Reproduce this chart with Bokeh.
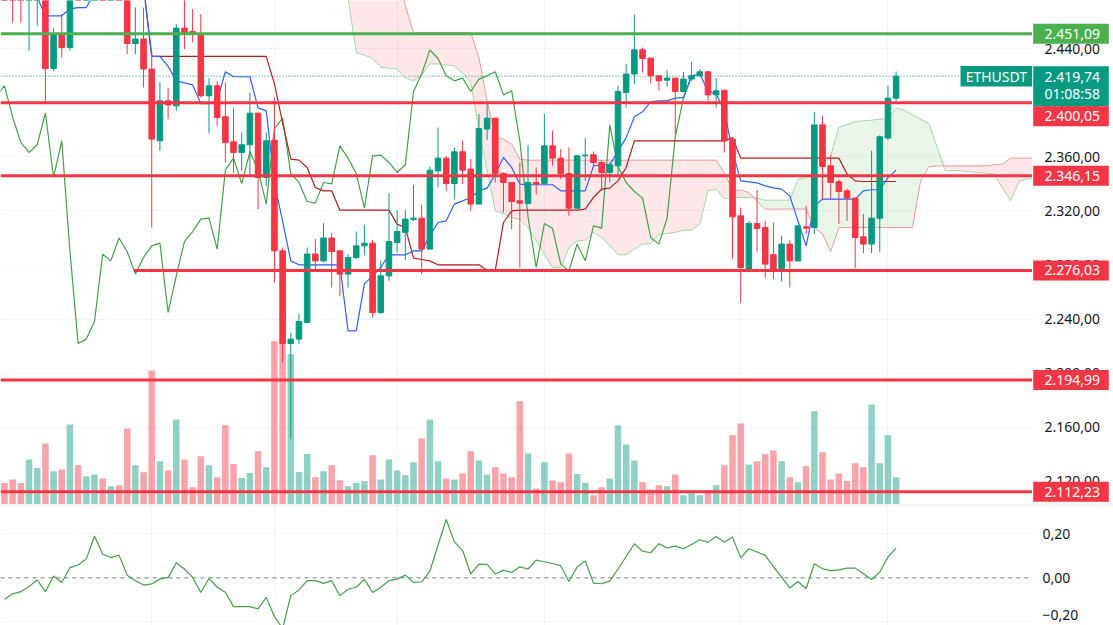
import numpy as np
from bokeh.plotting import figure
from bokeh.models import Range1d, FixedTicker, Grid, Span, ColumnDataSource
from bokeh.layouts import column
from bokeh.embed import file_html
from bokeh.resources import INLINE
from bokeh.core.properties import value

FONT = "Noto Sans"
UP, DOWN = "#089981", "#F23645"

# ---------------- data (ETHUSDT candles, index 0..109) ----------------
opens = [2515, 2490, 2478, 2477, 2492, 2505, 2425.4, 2450.8, 2441.0, 2500,
         2488, 2520, 2545, 2510, 2518, 2498, 2443.9, 2447.2, 2425.0, 2371.9,
         2401.5, 2397.8, 2455.3, 2452.8, 2450.9, 2405.2, 2412.6, 2389.7, 2371.2, 2363.3,
         2369.0, 2392.4, 2344.8, 2372.4, 2290.5, 2221.9, 2225.2, 2237.5, 2288.1, 2283.1,
         2300.0, 2290.5, 2273.3, 2285.6, 2294.2, 2296.2, 2244.9, 2272.0, 2296.7, 2304.1,
         2313.7, 2314.7, 2291.8, 2349.7, 2359.1, 2340.3, 2363.8, 2351.0, 2325.1, 2380.6,
         2388.7, 2347.7, 2341.1, 2327.5, 2325.5, 2341.0, 2340.3, 2368.2, 2359.1, 2347.7,
         2322.1, 2360.8, 2361.6, 2355.9, 2348.5, 2353.4, 2407.7, 2421.3, 2439.2, 2433.1,
         2420.0, 2416.8, 2418.3, 2408.4, 2417.6, 2420.0, 2423.0, 2405.9, 2409.4, 2373.2,
         2316.4, 2277.0, 2310.7, 2307.8, 2287.6, 2275.2, 2295.5, 2283.1, 2308.3, 2307.8,
         2383.7, 2353.4, 2341.6, 2334.9, 2329.5, 2300.9, 2295.5, 2314.7, 2374.0, 2403.5]
highs = [2528, 2498, 2486, 2500, 2510, 2512, 2455.3, 2465.7, 2510, 2540,
         2525, 2561, 2553, 2523.6, 2518, 2518.6, 2470.5, 2470.5, 2438.5, 2415.1,
         2410.9, 2458.3, 2492.0, 2469.4, 2465.7, 2418.3, 2416.3, 2415.1, 2396.1, 2378.1,
         2407.7, 2392.9, 2378.1, 2404.0, 2293.0, 2230.1, 2243.7, 2293.0, 2299.2, 2311.0,
         2304.0, 2290.5, 2288.1, 2304.8, 2309.5, 2298.7, 2283.1, 2333.2, 2320.6, 2320.6,
         2339.4, 2324.6, 2352.9, 2381.8, 2360.8, 2367.0, 2371.9, 2358.4, 2391.7, 2399.1,
         2388.7, 2348.5, 2341.1, 2355.9, 2369.0, 2352.2, 2391.7, 2379.3, 2365.8, 2367.0,
         2361.6, 2373.9, 2364.0, 2357.6, 2355.9, 2412.6, 2428.7, 2465.1, 2441.0, 2433.1,
         2420.0, 2424.2, 2418.3, 2423.0, 2430.4, 2425.0, 2423.7, 2418.3, 2409.4, 2374.4,
         2322.6, 2312.7, 2335.7, 2312.7, 2311.5, 2301.6, 2298.4, 2309.8, 2323.8, 2393.4,
         2390.4, 2361.6, 2343.1, 2336.6, 2330.0, 2317.7, 2364.5, 2376.1, 2412.6, 2423.2]
lows = [2480, 2459.4, 2459.4, 2438.5, 2457, 2400.3, 2423.7, 2433.6, 2438.5, 2480,
        2482, 2512, 2505, 2500, 2490, 2436.0, 2436.0, 2411.4, 2307.8, 2364.5,
        2388.0, 2394.1, 2439.8, 2444.7, 2404.0, 2377.3, 2383.0, 2355.9, 2348.5, 2349.7,
        2346.0, 2321.4, 2338.6, 2267.1, 2207.9, 2151.2, 2221.5, 2237.5, 2276.2, 2281.9,
        2263.4, 2257.2, 2263.4, 2284.4, 2287.6, 2241.2, 2243.7, 2268.3, 2289.3, 2283.6,
        2312.7, 2273.3, 2291.8, 2337.4, 2334.9, 2328.8, 2339.9, 2320.1, 2325.1, 2372.4,
        2341.1, 2318.9, 2306.6, 2278.2, 2325.1, 2332.5, 2340.3, 2353.4, 2343.6, 2316.4,
        2322.1, 2342.3, 2352.2, 2334.9, 2341.1, 2344.8, 2396.5, 2413.9, 2422.5, 2414.3,
        2408.9, 2411.9, 2376.9, 2407.7, 2416.3, 2419.3, 2401.5, 2396.5, 2363.3, 2284.4,
        2252.3, 2276.2, 2289.3, 2270.3, 2269.6, 2267.8, 2263.4, 2282.6, 2302.9, 2302.9,
        2328.8, 2328.8, 2310.3, 2312.7, 2277.7, 2288.8, 2288.8, 2290.0, 2372.4, 2401.5]
closes = [2490, 2478, 2477, 2492, 2505, 2425.4, 2450.8, 2441.0, 2500, 2488,
          2520, 2545, 2510, 2518, 2498, 2443.9, 2447.2, 2425.0, 2373.2, 2401.5,
          2398.5, 2455.3, 2452.0, 2450.9, 2405.2, 2412.6, 2389.2, 2370.7, 2363.3, 2369.0,
          2392.4, 2344.8, 2371.9, 2290.5, 2221.9, 2225.2, 2238.2, 2288.1, 2283.1, 2300.0,
          2290.0, 2273.3, 2285.6, 2294.2, 2296.2, 2244.9, 2272.0, 2297.4, 2304.8, 2314.0,
          2314.7, 2291.8, 2350.2, 2359.1, 2340.3, 2363.8, 2350.2, 2325.1, 2381.0, 2388.7,
          2347.7, 2341.1, 2327.0, 2325.8, 2341.1, 2340.0, 2368.2, 2359.1, 2347.7, 2322.1,
          2360.8, 2361.3, 2355.9, 2348.5, 2354.2, 2408.4, 2421.3, 2439.2, 2432.8, 2420.0,
          2416.3, 2418.3, 2408.4, 2417.6, 2420.0, 2423.0, 2405.9, 2408.9, 2371.9, 2315.7,
          2278.2, 2310.7, 2307.0, 2280.7, 2275.7, 2295.5, 2283.1, 2309.0, 2307.3, 2383.7,
          2352.9, 2341.1, 2334.4, 2329.5, 2300.4, 2295.5, 2314.7, 2374.9, 2403.5, 2419.74]
volumes = [2.16, 2.50, 2.16, 4.50, 3.66, 6.10, 3.33, 3.50, 8.00, 3.93,
           2.83, 3.00, 2.60, 1.83, 1.93, 7.60, 3.93, 3.23, 13.40, 4.33,
           3.43, 8.50, 4.50, 1.73, 4.83, 3.93, 2.73, 7.93, 4.06, 2.66,
           3.16, 5.33, 3.73, 16.33, 16.33, 15.06, 3.26, 5.06, 2.73, 3.33,
           3.93, 2.43, 1.83, 2.16, 2.33, 4.93, 2.50, 4.50, 3.40, 2.93,
           4.23, 6.60, 8.50, 4.33, 2.60, 2.50, 3.10, 5.33, 4.40, 3.00,
           3.73, 3.10, 2.73, 10.33, 5.10, 1.60, 4.23, 2.40, 2.23, 5.10,
           3.06, 2.16, 0.93, 1.73, 2.60, 7.93, 6.00, 4.40, 2.23, 1.50,
           1.93, 1.83, 3.00, 0.93, 1.40, 0.93, 1.40, 1.93, 3.93, 6.93,
           8.10, 4.00, 4.33, 5.06, 5.40, 4.33, 2.73, 2.23, 3.83, 9.33,
           5.23, 2.50, 3.10, 2.33, 4.13, 3.73, 10.00, 4.13, 6.93, 2.73]

# Ichimoku lines
tenkan = [2485, 2485, 2482, 2480, 2478, 2464.4, 2464.4, 2464.4, 2469.6, 2470.5,
          2470.5, 2481, 2481, 2481, 2492, 2497, 2498, 2486, 2434.4, 2434.4,
          2427, 2416.3, 2414.8, 2413.3, 2399.5, 2399.5, 2401.5, 2423, 2419.3, 2419.3,
          2419.3, 2396.3, 2394.1, 2340.5, 2312.5, 2283.1, 2280.2, 2280.2, 2280.2, 2280.2,
          2280.2, 2280.2, 2231.3, 2231.3, 2266.1, 2272, 2278.2, 2287.6, 2287.6, 2287.6,
          2290.5, 2290.5, 2301.6, 2311.5, 2312.7, 2325.1, 2327.5, 2330, 2334.9, 2336.9,
          2347.3, 2359.6, 2352.2, 2339.9, 2339.4, 2339.4, 2339.4, 2339.4, 2334.9, 2334.9,
          2334.9, 2334.9, 2353.4, 2354.2, 2354.2, 2364.5, 2374.1, 2389.7, 2393.4, 2401,
          2401.5, 2401.5, 2403.5, 2404, 2420, 2421.3, 2408.9, 2406.5, 2394.1, 2364.5,
          2342.3, 2341.6, 2340.8, 2338.6, 2337.1, 2336.2, 2331.2, 2312.7, 2294.2, 2323.8,
          2328.8, 2328.8, 2328.8, 2328.8, 2328.8, 2334.9, 2335.7, 2335.7, 2344.5, 2350.2]
kijun = ([2490] * 17 + [2486] + [2434.4] * 15
         + [2414.1, 2385.2, 2358.4, 2357.6, 2352.2, 2337.4, 2334.9, 2334.9]
         + [2320.6] * 7 + [2310.3, 2307.8, 2285.1, 2284.1, 2283.1]
         + [2280.2] * 6 + [2276.2, 2276.2, 2311.5, 2320.1] + [2320.6] * 8
         + [2321.4, 2330, 2336.2, 2336.9, 2342.3, 2352.2] + [2371.9] * 12
         + [2374.4] + [2359.1] * 13 + [2347.3, 2342.3] + [2341.8] * 5)
span_a = ([2495] * 42
          + [2478, 2437, 2435.2, 2433, 2426.3, 2425.6, 2425, 2418.3, 2416.3, 2420.5,
             2428.9, 2428.7, 2428.1, 2427.4, 2422.2, 2415.1, 2380, 2350, 2320.1, 2317.9,
             2315.2, 2314, 2307.8, 2297.9, 2288.1, 2278.2, 2278.2, 2293, 2297.9, 2298.4,
             2304.1, 2300.4, 2294.2, 2287.6, 2287.6, 2291.8, 2295.5, 2295.9, 2302.9, 2303.3,
             2304.1, 2305.8, 2305.8, 2310.3, 2334.9, 2336.2, 2329, 2330, 2330, 2330,
             2329.4, 2328, 2328, 2328, 2328, 2343.6, 2344.8, 2349.7, 2354.9, 2360.8,
             2381.8, 2383.8, 2386.2, 2386.7, 2387.2, 2388, 2388, 2396.1, 2394.9, 2391.1,
             2387.8, 2384.9, 2367.5, 2349.7, 2349.7, 2349.7, 2349, 2348.5, 2348, 2347.3,
             2337.1, 2327.5, 2341.6, 2343.6, 2343.6])
span_b = ([2495] * 49 + [2472] + [2452] * 8
          + [2433.5, 2401.5, 2374.4, 2373.2, 2369.5, 2358.4] + [2357.6] * 24
          + [2348.2, 2335.7, 2335.4, 2333.7, 2327.5] + [2321.4] * 6
          + [2307.8, 2302.9, 2290] + [2307.8] * 10 + [2342.3, 2352.7] + [2353.4] * 7
          + [2354.2, 2354.7] + [2359.1] * 4)
CHIKOU_SHIFT = 25

# oscillator (lower pane)
osc = [-0.098, -0.073, -0.063, -0.040, -0.010, -0.063, 0.008, -0.021, 0.046, 0.058,
       0.085, 0.190, 0.107, 0.092, 0.103, 0.012, -0.013, -0.033, -0.028, -0.006,
       0.002, 0.068, 0.040, 0.002, -0.067, -0.003, -0.043, -0.066, -0.131, -0.131,
       -0.131, -0.141, -0.089, -0.176, -0.23, -0.081, -0.055, -0.013, -0.013, -0.025,
       -0.013, -0.081, -0.052, -0.043, -0.007, -0.067, -0.043, -0.013, -0.006, 0.012,
       -0.022, -0.018, 0.030, 0.148, 0.265, 0.163, 0.125, 0.017, 0.062, 0.061,
       0.017, 0.035, 0.024, 0.050, 0.040, 0.080, 0.073, 0.065, 0.055, -0.017,
       0.049, 0.076, -0.024, -0.027, -0.015, 0.040, 0.097, 0.155, 0.121, 0.114,
       0.155, 0.136, 0.144, 0.132, 0.151, 0.173, 0.161, 0.188, 0.162, 0.185,
       0.091, 0.132, 0.117, 0.102, 0.051, 0.003, -0.046, -0.017, -0.050, 0.064,
       0.041, 0.033, 0.036, 0.044, 0.044, 0.018, -0.008, 0.026, 0.094, 0.136]

# horizontal levels
levels = [2451.09, 2400.05, 2346.15, 2276.03, 2194.99, 2112.23]
level_colors = ["#4CAF50", "#F23645", "#F23645", "#F23645", "#F23645", "#F23645"]
level_start = [None, None, None, 15.8, None, None]

price_ticks = [2120, 2160, 2200, 2240, 2280, 2320, 2360, 2400, 2440]
osc_ticks = [-0.2, 0.0, 0.2]
time_grid = [18, 33, 48, 66, 90, 108]
symbol = "ETHUSDT"
countdown = "01:08:58"


def fmt(v, d=2):
    s = f"{abs(v):,.{d}f}"
    s = s.replace(",", "X").replace(".", ",").replace("X", ".")
    return ("\u2212" + s) if v < 0 else s


# ---------------- layout constants ----------------
W = 1113
H1, H2 = 504, 121
PX = 8.18                         # pixels per bar
X0 = -4 / PX
X1 = X0 + W / PX
AXIS_X = X0 + 1031.7 / PX         # start of the price scale area
LBL_L, LBL_R = X0 + 1032.7 / PX, X0 + 1108.3 / PX
TXT_X = X0 + 1044 / PX
Y0, Y1 = 2102.84, 2475.73
PPX = (Y1 - Y0) / H1
OY0, OY1 = -0.2168, 0.3332
OPX = (OY1 - OY0) / H2

xr = Range1d(X0, X1)
GRID = "#F0F3FA"
TEXT = "#131722"

n = len(closes)
idx = np.arange(n)
o, h, l, c = map(np.array, (opens, highs, lows, closes))
col = np.where(c >= o, UP, DOWN)
src = ColumnDataSource(dict(x=idx, h=h, l=l, top=np.maximum(o, c), bot=np.minimum(o, c),
                            col=col, vol=np.array(volumes)))

# ---------------- main pane ----------------
p1 = figure(width=W, height=H1, x_range=xr, y_range=Range1d(Y0, Y1),
            x_axis_type=None, y_axis_type=None, output_backend="svg",
            toolbar_location=None, min_border=0, outline_line_color=None,
            background_fill_color="white", border_fill_color="white")
p1.add_layout(Grid(dimension=0, ticker=FixedTicker(ticks=time_grid), grid_line_color=GRID))
p1.add_layout(Grid(dimension=1, ticker=FixedTicker(ticks=price_ticks), grid_line_color=GRID))
p1.extra_y_ranges = {"vol": Range1d(0, 50.4)}

sa, sb = np.array(span_a, float), np.array(span_b, float)
ci = np.arange(len(sa))
p1.varea(x=ci, y1=sb, y2=np.where(sa > sb, sa, sb), fill_color="#4CAF50", fill_alpha=0.13)
p1.varea(x=ci, y1=sa, y2=np.where(sb > sa, sb, sa), fill_color="#F23645", fill_alpha=0.12)

p1.vbar(x="x", top="vol", bottom=0, width=0.8, fill_color="col", fill_alpha=0.45,
        line_color=None, source=src, y_range_name="vol")

p1.line(ci, sa, line_color="#A5D6A7", line_width=1)
p1.line(ci, sb, line_color="#EF9A9A", line_width=1)
p1.line(idx - CHIKOU_SHIFT, c, line_color="#43A047", line_width=1.2)
p1.line(idx, kijun, line_color="#B71C1C", line_width=1.2)
p1.line(idx, tenkan, line_color="#2962FF", line_width=1.2)

p1.segment(x0="x", x1="x", y0="l", y1="h", line_color="col", line_width=1, source=src)
p1.vbar(x="x", top="top", bottom="bot", width=0.68, fill_color="col", line_color="col",
        line_width=1, source=src)

for lv, lc, ls in zip(levels, level_colors, level_start):
    p1.segment(x0=[X0 if ls is None else ls], x1=[AXIS_X], y0=[lv], y1=[lv],
               line_color=lc, line_width=3)

last = closes[-1]
eth_l = X0 + 960 / PX
p1.segment(x0=[X0], x1=[eth_l], y0=[last], y1=[last], line_color=UP,
           line_width=1, line_dash="1 2")

# price scale area
p1.quad(left=[AXIS_X], right=[X1], bottom=[Y0], top=[Y1], fill_color="white", line_color=None)
p1.text(x=[TXT_X] * len(price_ticks), y=price_ticks, text=[fmt(t) for t in price_ticks],
        text_font=value(FONT), text_font_size="14px", text_color=TEXT,
        text_align="left", text_baseline="middle")

# current price label
pb_top, pb_bot = last + 10 * PPX, last - 30 * PPX
p1.quad(left=[LBL_L], right=[LBL_R], bottom=[pb_bot], top=[pb_top], fill_color=UP, line_color=None)
p1.text(x=[TXT_X, TXT_X], y=[last - 1 * PPX, last - 17.5 * PPX], text=[fmt(last), countdown],
        text_font=value(FONT), text_font_size="14px", text_color="white",
        text_align="left", text_baseline="middle")
p1.quad(left=[eth_l], right=[AXIS_X], bottom=[last - 10.3 * PPX], top=[last + 10.3 * PPX],
        fill_color=UP, line_color=None)
p1.text(x=[(eth_l + AXIS_X) / 2], y=[last], text=[symbol], text_font=value(FONT),
        text_font_size="14px", text_color="white", text_align="center", text_baseline="middle")

# level labels
for lv, lc in zip(levels, level_colors):
    yc = lv
    if yc + 10 * PPX > pb_bot and yc - 10 * PPX < pb_top:
        yc = pb_bot - 10 * PPX
    p1.quad(left=[LBL_L], right=[LBL_R], bottom=[yc - 10 * PPX], top=[yc + 10 * PPX],
            fill_color=lc, line_color=None)
    p1.text(x=[TXT_X], y=[yc], text=[fmt(lv)], text_font=value(FONT), text_font_size="14px",
            text_color="white", text_align="left", text_baseline="middle")

# ---------------- lower pane ----------------
p2 = figure(width=W, height=H2, x_range=xr, y_range=Range1d(OY0, OY1),
            x_axis_type=None, y_axis_type=None, output_backend="svg",
            toolbar_location=None, min_border=0, outline_line_color=None,
            background_fill_color="white", border_fill_color="white")
p2.add_layout(Grid(dimension=0, ticker=FixedTicker(ticks=time_grid), grid_line_color=GRID))
p2.add_layout(Grid(dimension=1, ticker=FixedTicker(ticks=[-0.2, 0.2]), grid_line_color=GRID))
p2.segment(x0=[X0], x1=[AXIS_X], y0=[0], y1=[0], line_color="#787B86", line_width=1,
           line_dash="4 4")
p2.line(idx, osc, line_color="#43A047", line_width=1.2)
p2.quad(left=[AXIS_X], right=[X1], bottom=[OY0], top=[OY1], fill_color="white", line_color=None)
# keep the lowest label fully inside the pane
osc_label_y = [max(t, OY0 + 11 * OPX) for t in osc_ticks]
p2.text(x=[X0 + 1042 / PX] * len(osc_ticks), y=osc_label_y, text=[fmt(t) for t in osc_ticks],
        text_font=value(FONT), text_font_size="14px", text_color=TEXT,
        text_align="left", text_baseline="middle")
p2.add_layout(Span(location=OY1 - 0.5 * OPX, dimension="width",
                   line_color="#E0E3EB", line_width=1))

layout = column(p1, p2, spacing=0)
open("out.html", "w").write(file_html(layout, INLINE))
